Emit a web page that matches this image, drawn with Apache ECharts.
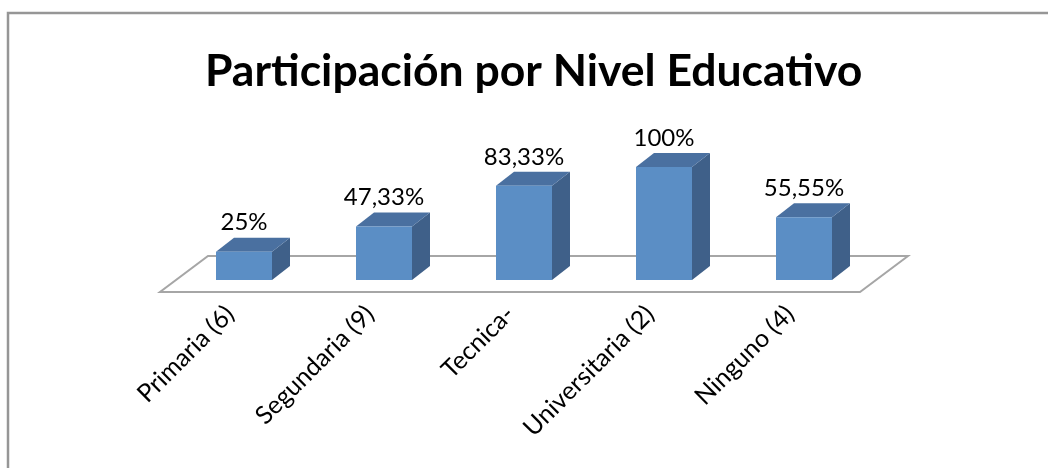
<!DOCTYPE html>
<html>
<head>
<meta charset="utf-8">
<script src="https://cdn.jsdelivr.net/npm/echarts@6/dist/echarts.min.js"></script>
<style>
  html, body { margin: 0; padding: 0; background: #fff; }
  #chart { width: 1048px; height: 468px; }
</style>
</head>
<body>
<div id="chart"></div>
<script>
// datos
const categorias = ['Primaria (6)', 'Segundaria (9)', 'Tecnica-', 'Universitaria (2)', 'Ninguno (4)'];
const valores = [25, 47.33, 83.33, 100, 55.55];
const etiquetas = ['25%', '47,33%', '83,33%', '100%', '55,55%'];

const colores = { frente: '#5b8ec5', arriba: '#4a70a0', lado: '#3f6089', piso: '#a6a6a6' };

const chart = echarts.init(document.getElementById('chart'));

// piso en perspectiva (debajo de las barras)
function renderPiso(params, api) {
    const cs = params.coordSys;
    const y0 = api.coord([0, 0])[1];
    const frontY = y0 + 12, backY = y0 - 24;
    const dx = 48;
    return {
        type: 'polygon',
        shape: { points: [[cs.x, frontY], [cs.x + cs.width, frontY], [cs.x + cs.width + dx, backY], [cs.x + dx, backY]] },
        style: { fill: '#fff', stroke: colores.piso, lineWidth: 2 }
    };
}

// barra 3D: frente, tapa y costado
function renderBarra(params, api) {
    const i = api.value(0);
    const v = api.value(1);
    const base = api.coord([i, 0]);
    const top = api.coord([i, v]);
    const band = api.size([1, 0])[0];
    const w = band * 0.4;
    const cx = base[0] + band * 0.1;
    const x0 = cx - w / 2, x1 = cx + w / 2;
    const by = base[1], ty = top[1];
    const ddx = 18, ddy = 14;
    return {
        type: 'group',
        children: [
            { type: 'polygon', shape: { points: [[x1, ty], [x1 + ddx, ty - ddy], [x1 + ddx, by - ddy], [x1, by]] }, style: { fill: colores.lado } },
            { type: 'polygon', shape: { points: [[x0, ty], [x1, ty], [x1 + ddx, ty - ddy], [x0 + ddx, ty - ddy]] }, style: { fill: colores.arriba } },
            { type: 'rect', shape: { x: x0, y: ty, width: w, height: by - ty }, style: { fill: colores.frente } },
            {
                type: 'text',
                style: {
                    x: cx, y: ty - ddy - 3, text: etiquetas[params.dataIndex],
                    fill: '#000', font: '24px Lato', align: 'center', verticalAlign: 'bottom'
                }
            }
        ]
    };
}

const option = {
    animation: false,
    backgroundColor: '#fff',
    title: {
        text: 'Participación por Nivel Educativo',
        left: 200,
        top: 44,
        textStyle: { fontFamily: 'Lato', fontWeight: 'bold', fontSize: 44.5, color: '#000' }
    },
    graphic: [{
        type: 'rect',
        shape: { x: 8, y: 13, width: 1200, height: 600 },
        style: { fill: 'none', stroke: '#969696', lineWidth: 2.5 },
        silent: true
    }],
    grid: { left: 160, right: 188, top: 167, bottom: 188 },
    xAxis: {
        type: 'category',
        data: categorias,
        axisLine: { show: false },
        axisTick: { show: false },
        axisLabel: { rotate: 45, margin: 30, interval: 0, fontFamily: 'Lato', fontSize: 25, color: '#000' }
    },
    yAxis: {
        type: 'value', min: 0, max: 100,
        axisLine: { show: false }, axisTick: { show: false },
        axisLabel: { show: false }, splitLine: { show: false }
    },
    series: [
        { type: 'custom', renderItem: renderPiso, data: [[0, 0]], z: 1, silent: true },
        { type: 'custom', renderItem: renderBarra, data: valores.map((v, i) => [i, v]), z: 2 }
    ]
};

chart.setOption(option);
</script>
</body>
</html>
